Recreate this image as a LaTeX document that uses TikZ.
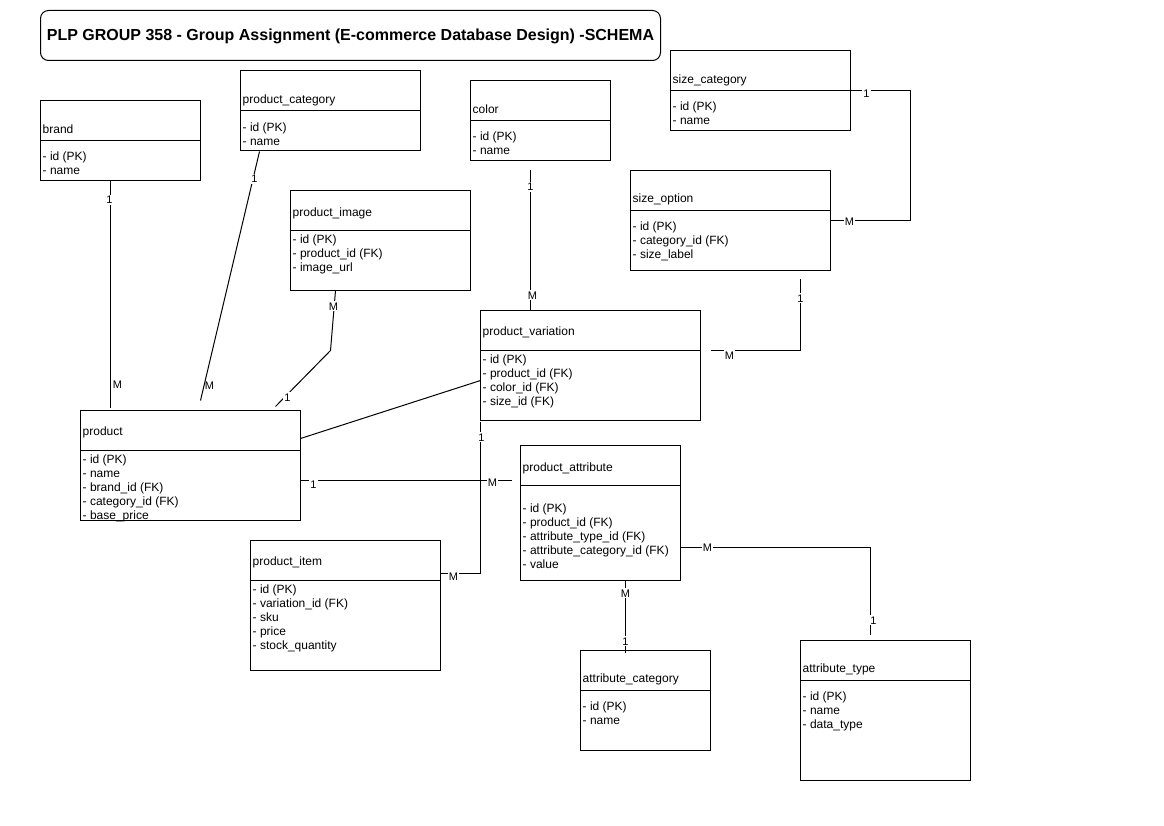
\documentclass[tikz,border=0pt]{standalone}
\usepackage{fontspec}
\setmainfont{Liberation Sans}
\usetikzlibrary{fit,calc}
\tikzset{
  tbl/.style={draw, inner sep=0pt, line width=1pt},
  hdr/.style={anchor=west, inner sep=0pt, font=\fontsize{12}{14}\selectfont, text height=8.6pt, text depth=0pt},
  fld/.style={anchor=north west, align=left, inner sep=0pt, font=\fontsize{12}{14}\selectfont},
  conn/.style={draw, line width=1pt},
  lbl/.style={inner sep=1pt, fill=white, font=\fontsize{11}{13}\selectfont, text height=8pt, text depth=0pt},
  lblnb/.style={inner sep=1pt, font=\fontsize{11}{13}\selectfont, text height=8pt, text depth=0pt},
  titlebox/.style={draw, line width=1pt, rounded corners=8pt, inner sep=0pt},
}
\newcommand\ertable[8]{%
  \node[tbl, fit={(#2,#3) (#4,#5)}] (#1) {};
  \draw[line width=1pt] (#2,#6) -- (#4,#6);
  \node[hdr] (#1-h) at (#2+2,#7+0.8) {#8};
}
\newcommand\erfields[4]{%
  \node[fld] (#1-f) at (#2+2,#3-4.6) {\strut #4};
}
\begin{document}
\begin{tikzpicture}[x=1pt,y=-1pt,shift={(0.5,0.5)}]
\fill[white] (-0.5,-0.5) rectangle (1163.5,825.5);
\useasboundingbox (-0.5,-0.5) rectangle (1163.5,825.5);

% title
\node[titlebox, fit={(40,10) (660,60)}] (titlebox) {};
\node[font=\fontsize{16}{18}\selectfont\bfseries, inner sep=0pt] (title) at (350,35.5) {PLP GROUP 358 - Group Assignment (E-commerce Database Design) -SCHEMA};

% tables
\ertable{brand}{40}{100}{200}{180}{140}{128}{brand}
\erfields{brand}{40}{155}{- id (PK)\\- name}

\ertable{pcat}{240}{70}{420}{150}{110}{98}{product\_category}
\erfields{pcat}{240}{126}{- id (PK)\\- name}

\ertable{color}{470}{80}{610}{160}{120}{108}{color}
\erfields{color}{470}{135}{- id (PK)\\- name}

\ertable{scat}{670}{50}{850}{130}{90}{78}{size\_category}
\erfields{scat}{670}{105}{- id (PK)\\- name}

\ertable{sopt}{630}{170}{830}{270}{210}{197}{size\_option}
\erfields{sopt}{630}{225}{- id (PK)\\- category\_id (FK)\\- size\_label}

\ertable{pimg}{290}{190}{470}{290}{230}{211}{product\_image}
\erfields{pimg}{290}{238}{- id (PK)\\- product\_id (FK)\\- image\_url}

\ertable{pvar}{480}{310}{700}{420}{350}{330}{product\_variation}
\erfields{pvar}{480}{358}{- id (PK)\\- product\_id (FK)\\- color\_id (FK)\\- size\_id (FK)}

\ertable{prod}{80}{410}{300}{520}{450}{430}{product}
\erfields{prod}{80}{458}{- id (PK)\\- name\\- brand\_id (FK)\\- category\_id (FK)\\- base\_price}

\ertable{pattr}{520}{445}{680}{580}{485}{466}{product\_attribute}
\erfields{pattr}{520}{507}{- id (PK)\\- product\_id (FK)\\- attribute\_type\_id (FK)\\- attribute\_category\_id (FK)\\- value}

\ertable{pitem}{250}{540}{440}{670}{580}{560}{product\_item}
\erfields{pitem}{250}{588}{- id (PK)\\- variation\_id (FK)\\- sku\\- price\\- stock\_quantity}

\ertable{acat}{580}{650}{710}{750}{690}{677}{attribute\_category}
\erfields{acat}{580}{705}{- id (PK)\\- name}

\ertable{atype}{800}{640}{970}{780}{680}{667}{attribute\_type}
\erfields{atype}{800}{695}{- id (PK)\\- name\\- data\_type}

% connector end points
\coordinate (bp-a) at (110,180);
\coordinate (bp-b) at (110,407);
\coordinate (cp-a) at (259,151);
\coordinate (cp-b) at (200,400);
\coordinate (ip-a) at (335,290);
\coordinate (ip-m) at (330,350);
\coordinate (ip-b) at (275,406);
\coordinate (pv-a) at (300,438);
\coordinate (pv-b) at (480,380);
\coordinate (pa-a) at (300,480);
\coordinate (pa-b) at (511,480);
\coordinate (cv-a) at (530,170);
\coordinate (cv-b) at (530,310);
\coordinate (ss-a) at (850,90);
\coordinate (ss-m1) at (910,90);
\coordinate (ss-m2) at (910,220);
\coordinate (ss-b) at (830,220);
\coordinate (sv-a) at (800,279);
\coordinate (sv-m) at (800,350);
\coordinate (sv-b) at (710,350);
\coordinate (vi-a) at (480,421);
\coordinate (vi-m) at (480,573);
\coordinate (vi-b) at (440,573);
\coordinate (at-a) at (680,547);
\coordinate (at-m) at (870,547);
\coordinate (at-b) at (870,634);
\coordinate (ac-a) at (625,580);
\coordinate (ac-b) at (625,652);

% connectors
\draw[conn] (bp-a) -- (bp-b);
\draw[conn] (cp-a) -- (cp-b);
\draw[conn] (ip-a) -- (ip-m) -- (ip-b);
\draw[conn] (pv-a) -- (pv-b);
\draw[conn] (pa-a) -- (pa-b);
\draw[conn] (cv-a) -- (cv-b);
\draw[conn] (ss-a) -- (ss-m1) -- (ss-m2) -- (ss-b);
\draw[conn] (sv-a) -- (sv-m) -- (sv-b);
\draw[conn] (vi-a) -- (vi-m) -- (vi-b);
\draw[conn] (at-a) -- (at-m) -- (at-b);
\draw[conn] (ac-a) -- (ac-b);

% cardinality labels
\node[lbl] (l1) at (109,199.5) {1};
\node[lblnb] (l2) at (117,383.5) {M};
\node[lbl] (l3) at (254,178.5) {1};
\node[lblnb] (l4) at (209,384.5) {M};
\node[lbl] (l5) at (333,305.5) {M};
\node[lbl] (l6) at (287,396.5) {1};
\node[lbl] (l7) at (530,186.5) {1};
\node[lbl] (l8) at (532,294.5) {M};
\node[lbl] (l9) at (866,93.5) {1};
\node[lbl] (l10) at (849,221.5) {M};
\node[lbl] (l11) at (800,297.5) {1};
\node[lbl] (l12) at (729,354.5) {M};
\node[lbl] (l13) at (313,483.5) {1};
\node[lbl] (l14) at (492,481.5) {M};
\node[lbl] (l15) at (481,436.5) {1};
\node[lbl] (l16) at (453,575.5) {M};
\node[lbl] (l17) at (707,546.5) {M};
\node[lbl] (l18) at (873,619.5) {1};
\node[lbl] (l19) at (625,592.5) {M};
\node[lbl] (l20) at (625,640.5) {1};
\end{tikzpicture}
\end{document}
